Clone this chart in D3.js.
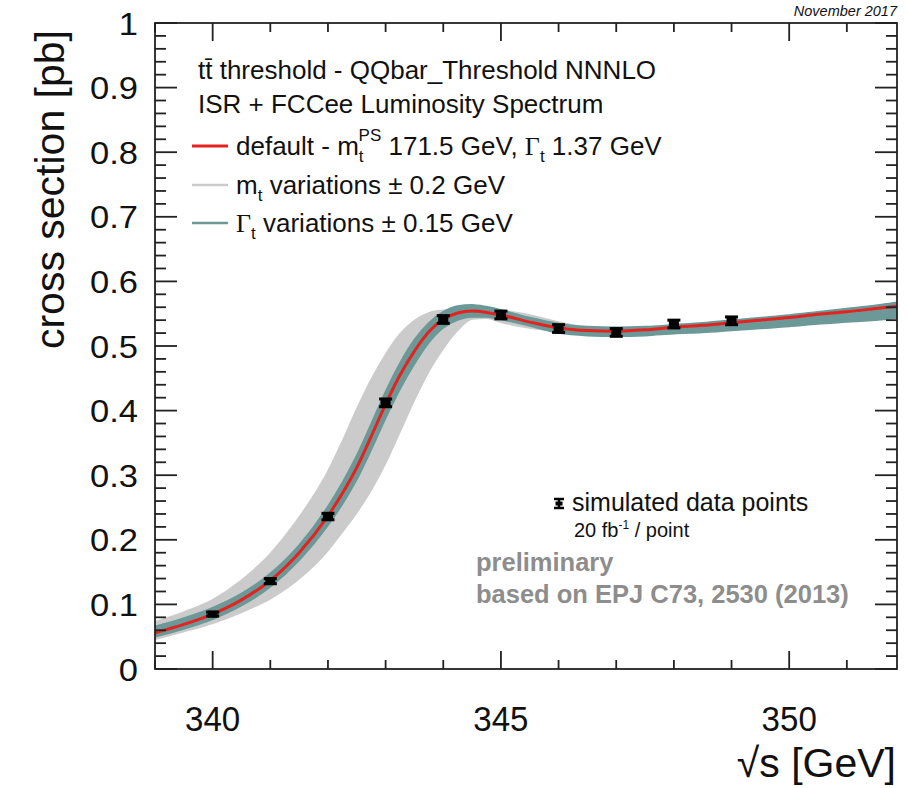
<!DOCTYPE html>
<html><head><meta charset="utf-8">
<script src="https://cdn.jsdelivr.net/npm/d3@7"></script>
<style>body{margin:0;background:#fff}svg{display:block}</style>
</head><body>
<svg id="c" width="908" height="788"></svg>
<script>
// ---- data ----
const sqrtS        = [339.0,339.5,340.0,340.5,341.0,341.5,342.0,342.25,342.5,342.75,343.0,343.25,343.5,343.75,344.0,344.25,344.5,344.75,345.0,345.5,346.0,346.5,347.0,347.5,348.0,348.5,349.0,349.5,350.0,350.5,351.0,351.5,351.9];
const defaultXsec  = [0.056,0.069,0.085,0.107,0.137,0.180,0.237,0.272,0.312,0.360,0.410,0.455,0.492,0.522,0.541,0.551,0.554,0.552,0.548,0.537,0.528,0.524,0.523,0.525,0.529,0.532,0.536,0.540,0.544,0.549,0.553,0.558,0.562];
const mtVarLow     = [0.047,0.059,0.072,0.089,0.110,0.141,0.185,0.214,0.244,0.279,0.321,0.370,0.419,0.463,0.498,0.526,0.543,0.544,0.538,0.529,0.524,0.522,0.521,0.522,0.525,0.529,0.533,0.537,0.541,0.545,0.549,0.553,0.557];
const mtVarHigh    = [0.072,0.087,0.106,0.136,0.177,0.233,0.304,0.350,0.400,0.446,0.485,0.517,0.538,0.550,0.554,0.555,0.555,0.555,0.554,0.547,0.536,0.528,0.525,0.526,0.530,0.534,0.538,0.542,0.546,0.551,0.555,0.560,0.564];
const gtVarLow     = [0.050,0.062,0.077,0.098,0.127,0.168,0.222,0.255,0.293,0.339,0.388,0.433,0.472,0.505,0.528,0.540,0.545,0.545,0.541,0.531,0.520,0.516,0.515,0.516,0.519,0.521,0.524,0.527,0.530,0.534,0.537,0.540,0.543];
const gtVarHigh    = [0.066,0.079,0.095,0.117,0.148,0.192,0.252,0.289,0.331,0.380,0.430,0.474,0.510,0.536,0.553,0.562,0.564,0.561,0.556,0.544,0.535,0.530,0.529,0.530,0.533,0.536,0.540,0.544,0.548,0.553,0.558,0.563,0.568];
const dataEnergy   = [340,341,342,343,344,345,346,347,348,349];
const dataXsec     = [0.085,0.136,0.236,0.412,0.541,0.548,0.527,0.521,0.534,0.539];
const dataErr      = [0.003,0.004,0.005,0.006,0.006,0.006,0.006,0.006,0.006,0.006];
const xMajorTicks  = [340,345,350];
const xMinorTicks  = [339,341,342,343,344,346,347,348,349,351];
const yMajorTicks  = [0,0.1,0.2,0.3,0.4,0.5,0.6,0.7,0.8,0.9,1];
const yTickLabels  = ["0","0.1","0.2","0.3","0.4","0.5","0.6","0.7","0.8","0.9","1"];
const yMinorTicks  = d3.range(0,50).map(i=>i*0.02).filter(v=>Math.round(v*1000)%100!==0);

// ---- layout ----
const L=155, R=897, T=23, B=669;
const svg = d3.select("#c");
const x = d3.scaleLinear().domain([339, 351.87]).range([L, R]);
const y = d3.scaleLinear().domain([0, 1]).range([B, T]);
const FONT = "'Liberation Sans', Arial, Helvetica, sans-serif";
const COL_RED="#e3231f", COL_GRAY="#cbcbcb", COL_TEAL="#6c9898";

svg.append("clipPath").attr("id","pc").append("rect")
  .attr("x",L).attr("y",T).attr("width",R-L).attr("height",B-T);
const plot = svg.append("g").attr("clip-path","url(#pc)");
const idx = d3.range(sqrtS.length);

const areaOf = (lo, hi) => d3.area().x(i=>x(sqrtS[i])).y0(i=>y(lo[i])).y1(i=>y(hi[i])).curve(d3.curveMonotoneX);
plot.append("path").datum(idx).attr("d", areaOf(mtVarLow, mtVarHigh))
  .attr("fill", COL_GRAY).attr("stroke", COL_GRAY).attr("stroke-width", 3);
plot.append("path").datum(idx).attr("d", areaOf(gtVarLow, gtVarHigh))
  .attr("fill", COL_TEAL).attr("stroke", COL_TEAL).attr("stroke-width", 1.5);
plot.append("path").datum(idx)
  .attr("d", d3.line().x(i=>x(sqrtS[i])).y(i=>y(defaultXsec[i])).curve(d3.curveMonotoneX))
  .attr("fill","none").attr("stroke",COL_RED).attr("stroke-width",3);

// data points with error bars
const pts = svg.append("g");
dataEnergy.forEach((e,i)=>{
  const cx=x(e), cy=y(dataXsec[i]);
  const y1=y(dataXsec[i]+dataErr[i]), y2=y(dataXsec[i]-dataErr[i]);
  pts.append("line").attr("x1",cx).attr("x2",cx).attr("y1",y1).attr("y2",y2).attr("stroke","#000").attr("stroke-width",3);
  pts.append("line").attr("x1",cx-6.5).attr("x2",cx+6.5).attr("y1",y1).attr("y2",y1).attr("stroke","#000").attr("stroke-width",3);
  pts.append("line").attr("x1",cx-6.5).attr("x2",cx+6.5).attr("y1",y2).attr("y2",y2).attr("stroke","#000").attr("stroke-width",3);
  pts.append("rect").attr("x",cx-5).attr("y",cy-3.5).attr("width",10).attr("height",7).attr("fill","#000");
});

// frame & ticks
const ax = svg.append("g").attr("stroke","#222").attr("stroke-width",1.8);
ax.append("rect").attr("x",L).attr("y",T).attr("width",R-L).attr("height",B-T).attr("fill","none");
xMajorTicks.forEach(v=>{
  ax.append("line").attr("x1",x(v)).attr("x2",x(v)).attr("y1",B).attr("y2",B-18);
  ax.append("line").attr("x1",x(v)).attr("x2",x(v)).attr("y1",T).attr("y2",T+18);
});
xMinorTicks.forEach(v=>{
  ax.append("line").attr("x1",x(v)).attr("x2",x(v)).attr("y1",B).attr("y2",B-9);
  ax.append("line").attr("x1",x(v)).attr("x2",x(v)).attr("y1",T).attr("y2",T+9);
});
yMajorTicks.forEach(v=>{
  ax.append("line").attr("x1",L).attr("x2",L+22).attr("y1",y(v)).attr("y2",y(v));
  ax.append("line").attr("x1",R).attr("x2",R-22).attr("y1",y(v)).attr("y2",y(v));
});
yMinorTicks.forEach(v=>{
  ax.append("line").attr("x1",L).attr("x2",L+11).attr("y1",y(v)).attr("y2",y(v));
  ax.append("line").attr("x1",R).attr("x2",R-11).attr("y1",y(v)).attr("y2",y(v));
});

// tick labels
const txt = svg.append("g").attr("font-family",FONT).attr("fill","#111");
const sx = (cx, k) => `translate(${cx},0) scale(${k},1) translate(${-cx},0)`;
yMajorTicks.forEach((v,i)=>{
  txt.append("text").attr("x",138).attr("y",y(v)).attr("dy","0.36em")
    .attr("text-anchor","end").attr("font-size",32).attr("transform",sx(138,1.08)).text(yTickLabels[i]);
});
xMajorTicks.forEach(v=>{
  txt.append("text").attr("x",x(v)).attr("y",731).attr("text-anchor","middle")
    .attr("font-size",36).attr("transform",sx(x(v),0.92)).text(String(v));
});

// axis titles
txt.append("text").attr("x",896).attr("y",777).attr("text-anchor","end").attr("font-size",41)
  .text("√s [GeV]");
txt.append("text").attr("transform","translate(64,30) rotate(-90)").attr("text-anchor","end")
  .attr("font-size",41).text("cross section [pb]");
txt.append("text").attr("x",897).attr("y",16).attr("text-anchor","end").attr("font-size",14.5)
  .attr("font-style","italic").text("November 2017");

// legend
const lg = svg.append("g").attr("font-family",FONT).attr("fill","#111").attr("font-size",26);
lg.append("text").attr("x",198).attr("y",79).text("tt̄ threshold - QQbar_Threshold NNNLO");
lg.append("text").attr("x",198).attr("y",113).text("ISR + FCCee Luminosity Spectrum");
const legRows = [
  {yy:146, col:COL_RED, w:3},
  {yy:185, col:COL_GRAY, w:2.5},
  {yy:223, col:COL_TEAL, w:2.5}
];
legRows.forEach(r=>lg.append("line").attr("x1",192).attr("x2",228).attr("y1",r.yy).attr("y2",r.yy)
  .attr("stroke",r.col).attr("stroke-width",r.w));
let t1 = lg.append("text").attr("x",236).attr("y",155);
t1.append("tspan").text("default - m");
t1.append("tspan").attr("font-size",17).attr("dy",7).text("t");
t1.append("tspan").attr("font-size",17).attr("dx",-5).attr("dy",-21).text("PS");
t1.append("tspan").attr("dy",14).text(" 171.5 GeV, ");
t1.append("tspan").attr("font-family","'Liberation Serif', serif").text("Γ");
t1.append("tspan").attr("font-size",17).attr("dy",7).text("t");
t1.append("tspan").attr("dy",-7).text(" 1.37 GeV");
let t2 = lg.append("text").attr("x",236).attr("y",194);
t2.append("tspan").text("m");
t2.append("tspan").attr("font-size",17).attr("dy",7).text("t");
t2.append("tspan").attr("dy",-7).text(" variations ± 0.2 GeV");
let t3 = lg.append("text").attr("x",236).attr("y",232);
t3.append("tspan").attr("font-family","'Liberation Serif', serif").text("Γ");
t3.append("tspan").attr("font-size",17).attr("dy",7).text("t");
t3.append("tspan").attr("dy",-7).text(" variations ± 0.15 GeV");

// data-point legend and notes
const mk = svg.append("g").attr("stroke","#000").attr("stroke-width",2.5);
mk.append("line").attr("x1",559).attr("x2",559).attr("y1",499).attr("y2",508);
mk.append("line").attr("x1",554).attr("x2",564).attr("y1",499).attr("y2",499);
mk.append("line").attr("x1",554).attr("x2",564).attr("y1",508).attr("y2",508);
svg.append("rect").attr("x",555.5).attr("y",501.5).attr("width",7).attr("height",4).attr("fill","#000");
const nt = svg.append("g").attr("font-family",FONT).attr("fill","#111");
nt.append("text").attr("x",572).attr("y",511).attr("font-size",25).text("simulated data points");
let t4 = nt.append("text").attr("x",574).attr("y",537).attr("font-size",20);
t4.append("tspan").text("20 fb");
t4.append("tspan").attr("font-size",12).attr("dy",-8).text("-1");
t4.append("tspan").attr("dy",8).text(" / point");
nt.append("text").attr("x",476).attr("y",571).attr("font-size",25.5).attr("font-weight","bold")
  .attr("fill","#8d8d8d").text("preliminary");
nt.append("text").attr("x",476).attr("y",603).attr("font-size",25.5).attr("font-weight","bold")
  .attr("fill","#8d8d8d").text("based on EPJ C73, 2530 (2013)");
</script>
</body></html>
